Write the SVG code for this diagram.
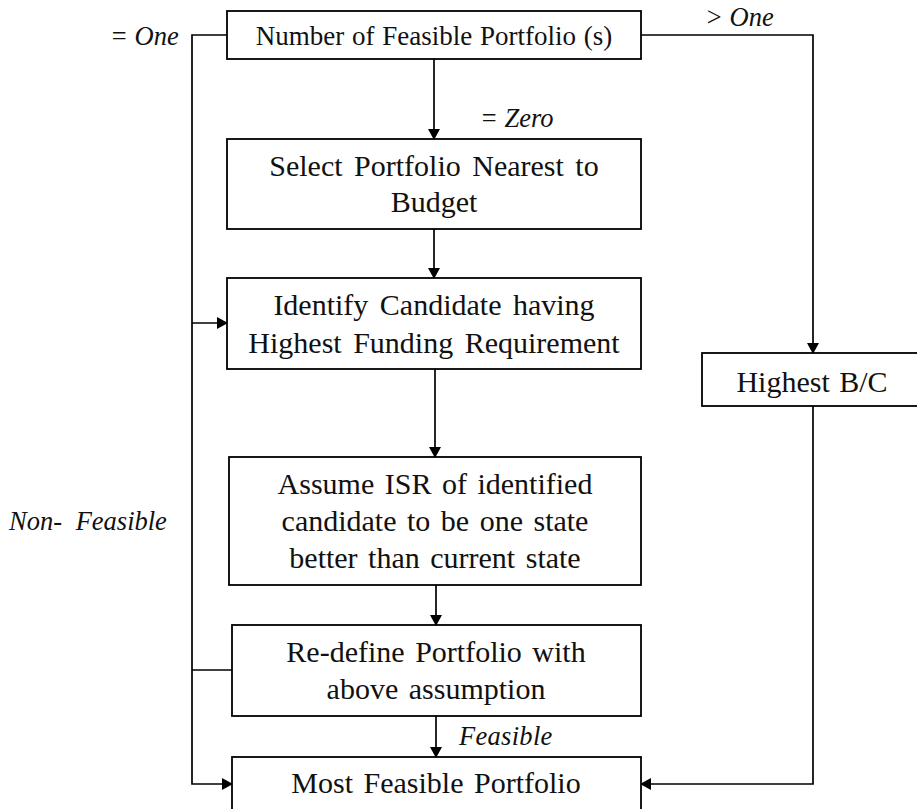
<svg xmlns="http://www.w3.org/2000/svg" width="917" height="809" viewBox="0 0 917 809">
<defs>
<marker id="ah" markerUnits="userSpaceOnUse" markerWidth="11" markerHeight="12" refX="10" refY="6" orient="auto">
<path d="M0,0 L11,6 L0,12 Z" fill="#000"/>
</marker>
<style>
.box{fill:#fff;stroke:#000;stroke-width:1.8}
.t{font-family:"Liberation Serif","Times New Roman",serif;font-size:30px;fill:#111;text-anchor:middle}
.t1{font-size:27px}
.lb{font-family:"Liberation Serif","Times New Roman",serif;font-size:26.5px;font-style:italic;fill:#111}
.c{fill:none;stroke:#000;stroke-width:1.7}
.a{marker-end:url(#ah)}
</style>
</defs>
<rect width="917" height="809" fill="#fff"/>
<g id="connectors">
<path class="c a" d="M434,59 V139"/>
<path class="c a" d="M434,229 V278"/>
<path class="c a" d="M435,369 V457"/>
<path class="c a" d="M436,585 V625"/>
<path class="c a" d="M436,716 V757"/>
<path class="c a" d="M641,35 H813 V353"/>
<path class="c a" d="M813,406 V784 H641"/>
<path class="c a" d="M227,35 H192 V784 H232"/>
<path class="c a" d="M192,323 H227"/>
<path class="c" d="M232,670 H192"/>
<text class="lb" x="110" y="45">= One</text>
<text class="lb" x="705" y="26">&gt; One</text>
<text class="lb" x="480" y="127">= Zero</text>
<text class="lb" x="9" y="530" word-spacing="7">Non- Feasible</text>
<text class="lb" x="459" y="745" letter-spacing="0.3">Feasible</text>
</g>
<g id="n1">
<rect class="box" x="227" y="11" width="414" height="48"/>
<text class="t t1" x="434" y="45" word-spacing="1">Number of Feasible Portfolio (s)</text>
</g>
<g id="n2">
<rect class="box" x="227" y="139" width="414" height="90"/>
<text class="t" x="434" y="176" word-spacing="4">Select Portfolio Nearest to</text>
<text class="t" x="434" y="212">Budget</text>
</g>
<g id="n3">
<rect class="box" x="227" y="278" width="414" height="91"/>
<text class="t" x="434" y="315" word-spacing="4">Identify Candidate having</text>
<text class="t" x="434" y="353" word-spacing="4">Highest Funding Requirement</text>
</g>
<g id="n4">
<rect class="box" x="229" y="457" width="412" height="128"/>
<text class="t" x="435" y="494" word-spacing="3">Assume ISR of identified</text>
<text class="t" x="435" y="531" word-spacing="3">candidate to be one state</text>
<text class="t" x="435" y="568" word-spacing="3">better than current state</text>
</g>
<g id="n5">
<rect class="box" x="232" y="625" width="409" height="91"/>
<text class="t" x="436" y="662" word-spacing="3">Re-define Portfolio with</text>
<text class="t" x="436" y="699" word-spacing="3">above assumption</text>
</g>
<g id="n6">
<rect class="box" x="232" y="757" width="409" height="70"/>
<text class="t" x="436" y="793" word-spacing="3">Most Feasible Portfolio</text>
</g>
<g id="n7">
<rect class="box" x="702" y="353" width="217" height="53"/>
<text class="t" x="812" y="392" word-spacing="2">Highest B/C</text>
</g>
</svg>
